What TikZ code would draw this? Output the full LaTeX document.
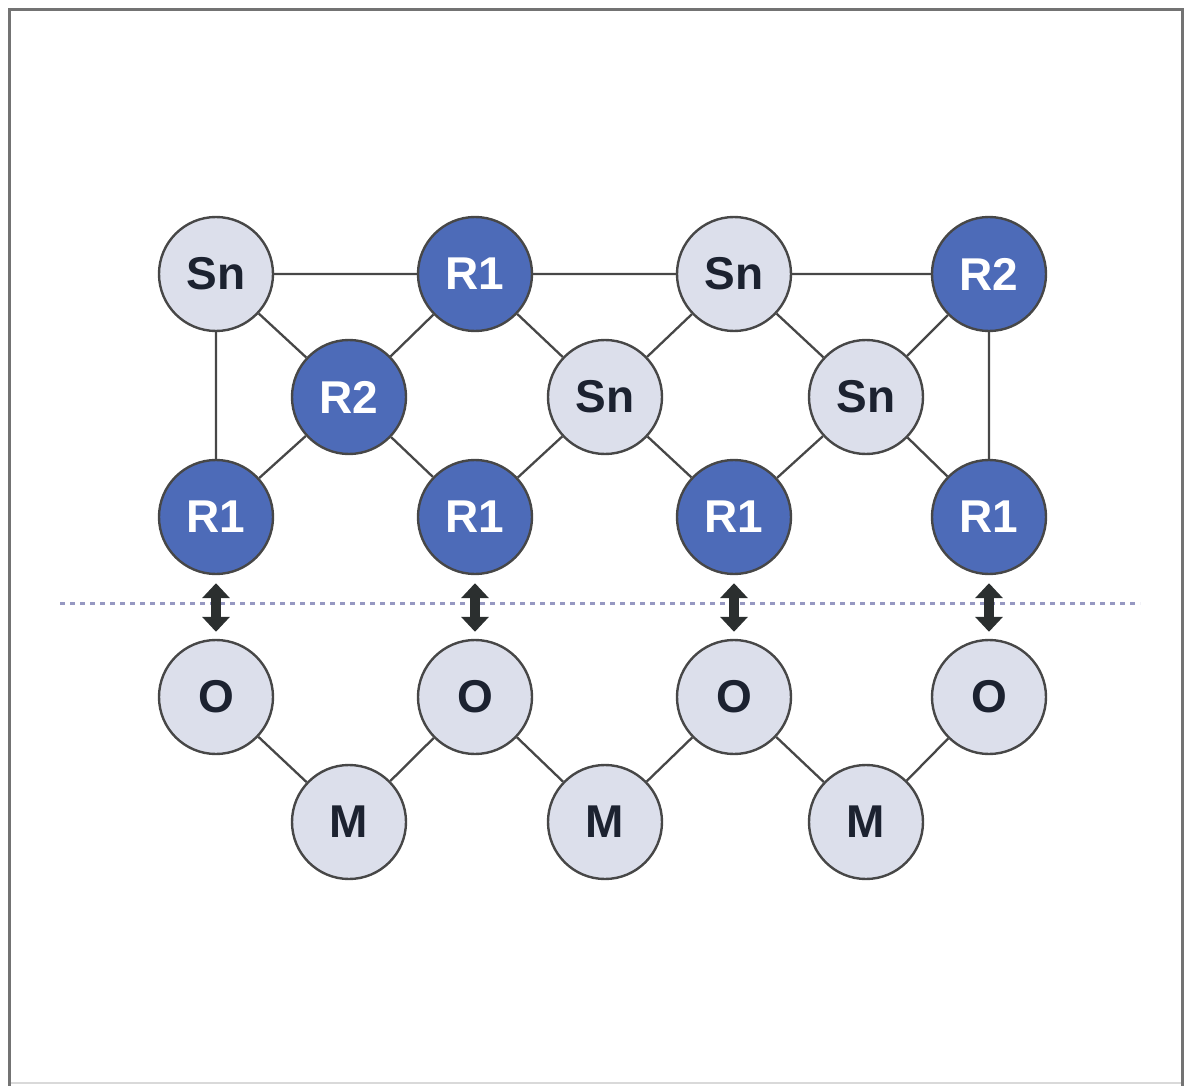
\documentclass[tikz,border=0pt]{standalone}
\usepackage{fontspec}
\setmainfont{Liberation Sans}
\usetikzlibrary{arrows.meta}
\definecolor{blueatom}{HTML}{4D6BB8}
\definecolor{lightatom}{HTML}{DCDFEB}
\definecolor{edgegray}{HTML}{474747}
\definecolor{darktext}{HTML}{1C2230}
\definecolor{dotline}{HTML}{9698C2}
\definecolor{arrowgray}{HTML}{2B2F2F}
\tikzset{
  atom/.style={circle, minimum size=114pt, inner sep=0pt, draw=edgegray, line width=2.4pt,
    font=\fontsize{46}{54}\selectfont\bfseries},
  blueat/.style={atom, fill=blueatom, text=white},
  lightat/.style={atom, fill=lightatom, text=darktext},
  bond/.style={draw=edgegray, line width=2.3pt},
  link/.style={draw=arrowgray, line width=9.5pt,
    {Triangle[width=27pt,length=15pt]}-{Triangle[width=27pt,length=15pt]},
    shorten <=8pt, shorten >=7pt},
}
\begin{document}
\begin{tikzpicture}[x=1pt,y=-1pt]
\useasboundingbox (0,0) rectangle (1184,1086);
% frame
\draw[draw=lightgray!60, line width=2pt] (9,1083) -- (1182,1083);
\draw[draw=gray!90!black, line width=3pt] (9,1086) -- (9,10) -- (1182,10) -- (1182,1086);
% dotted interface line
\draw[dotline, line width=3pt, dash pattern=on 5pt off 5pt] (60,603) coordinate (dl) -- (1140,603) coordinate (dr);
% top layer
\node[lightat] (sn1) at (216,274) {Sn};
\node[blueat]  (r1t) at (475,274) {R1};
\node[lightat] (sn2) at (734,274) {Sn};
\node[blueat]  (r2t) at (989,274) {R2};
\node[blueat]  (r2m) at (349,397) {R2};
\node[lightat] (sn3) at (605,397) {Sn};
\node[lightat] (sn4) at (866,397) {Sn};
\node[blueat]  (r1a) at (216,517) {R1};
\node[blueat]  (r1b) at (475,517) {R1};
\node[blueat]  (r1c) at (734,517) {R1};
\node[blueat]  (r1d) at (989,517) {R1};
% oxide
\node[lightat] (o1) at (216,697) {O};
\node[lightat] (o2) at (475,697) {O};
\node[lightat] (o3) at (734,697) {O};
\node[lightat] (o4) at (989,697) {O};
\node[lightat] (m1) at (349,822) {M};
\node[lightat] (m2) at (605,822) {M};
\node[lightat] (m3) at (866,822) {M};
% bonds
\path[bond] (sn1) -- (r1t) (r1t) -- (sn2) (sn2) -- (r2t)
  (sn1) -- (r1a) (r2t) -- (r1d)
  (sn1) -- (r2m) (r2m) -- (r1t) (r2m) -- (r1a) (r2m) -- (r1b)
  (r1t) -- (sn3) (sn2) -- (sn3) (sn3) -- (r1b) (sn3) -- (r1c)
  (sn2) -- (sn4) (r2t) -- (sn4) (sn4) -- (r1c) (sn4) -- (r1d)
  (o1) -- (m1) (m1) -- (o2) (o2) -- (m2) (m2) -- (o3) (o3) -- (m3) (m3) -- (o4);
% interactions
\draw[link] (r1a) -- (o1);
\draw[link] (r1b) -- (o2);
\draw[link] (r1c) -- (o3);
\draw[link] (r1d) -- (o4);
\end{tikzpicture}
\end{document}
